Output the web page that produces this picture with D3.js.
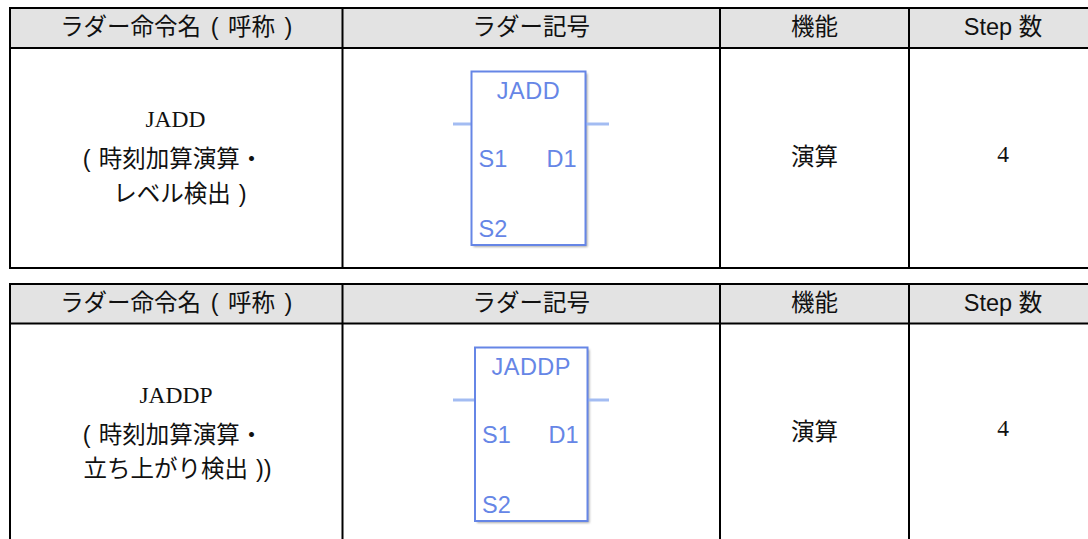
<!DOCTYPE html>
<html>
<head>
<meta charset="utf-8">
<script src="https://cdn.jsdelivr.net/npm/d3@7/dist/d3.min.js"></script>
<style>
    body { margin: 0; background: #fff; overflow: hidden; }
    svg { display: block; }
</style>
</head>
<body>
<svg id="svg"></svg>
<script>
//Data
const headers = ["ラダー命令名 ( 呼称 )", "ラダー記号", "機能", "Step 数"];
const commands = ["JADD", "JADDP"];
const descLine1 = ["( 時刻加算演算・", "( 時刻加算演算・"];
const descLine2 = ["レベル検出 )", "立ち上がり検出 ))"];
const functions = ["演算", "演算"];
const steps = [4, 4];
const inputPins = ["S1", "S2"];
const outputPins = ["D1"];

//Layout
const svgWidth = 1088;
const svgHeight = 539;
const sans = "'Liberation Sans','Noto Sans CJK JP',sans-serif";
const serif = "'Liberation Serif','Noto Sans CJK JP',serif";
const blue = "#6686e6";

// column edges, last one runs off the page like in the original
const colX = d3.scaleLinear().domain([0, 1, 2, 3, 4]).range([10, 342.5, 720, 909, 1097]);
const colCenter = i => (colX(i) + colX(i + 1)) / 2;

// one entry per table
const tableLayout = [
    { top: 8, head: 48, bottom: 268, closed: true, lines: [127, 167, 202], lineX: [175.5, 173, 180], funcY: 165, stepY: 162, box: [471.5, 585.5, 71.5, 245], rung: 124 },
    { top: 284, head: 323.5, bottom: 545, closed: false, lines: [403, 443, 477], lineX: [176, 173, 177.5], funcY: 440, stepY: 436, box: [475, 587.5, 347.5, 521], rung: 400 }
];

const svg = d3.select("#svg").attr("width", svgWidth).attr("height", svgHeight);

const defs = svg.append("defs");
defs.append("filter").attr("id", "soft")
    .append("feGaussianBlur").attr("stdDeviation", 1);

function addText(g, str, x, y, family, anchor) {
    return g.append("text")
        .attr("x", x)
        .attr("y", y)
        .attr("text-anchor", anchor || "middle")
        .attr("font-family", family)
        .attr("font-size", 23.5)
        .attr("word-spacing", 1.5)
        .attr("fill", "#111")
        .text(str);
}

function drawSymbol(g, name, t) {
    const [x0, x1, y0, y1] = t.box;
    const rungY = t.rung;

    // shadow
    g.append("rect")
        .attr("x", x0 + 2).attr("y", y0 + 2)
        .attr("width", x1 - x0).attr("height", y1 - y0)
        .attr("fill", "#aaa")
        .attr("filter", "url(#soft)");

    // rungs
    g.selectAll("line.rung")
        .data([[453, x0], [x1, 609]])
        .enter()
        .append("line")
        .attr("class", "rung")
        .attr("x1", d => d[0])
        .attr("x2", d => d[1])
        .attr("y1", rungY)
        .attr("y2", rungY)
        .attr("stroke", "#a3bcf2")
        .attr("stroke-width", 3);

    g.append("rect")
        .attr("x", x0).attr("y", y0)
        .attr("width", x1 - x0).attr("height", y1 - y0)
        .attr("fill", "#fff")
        .attr("stroke", blue)
        .attr("stroke-width", 2);

    addText(g, name, (x0 + x1) / 2, y0 + 27, sans).attr("fill", blue).attr("letter-spacing", 0.5);

    const pinY = d3.scaleOrdinal().domain(inputPins).range([y0 + 95, y0 + 165]);
    inputPins.forEach(p => {
        addText(g, p, x0 + 7, pinY(p), sans, "start").attr("fill", blue);
    });
    outputPins.forEach(p => {
        addText(g, p, x1 - 9, pinY(inputPins[0]), sans, "end").attr("fill", blue);
    });
}

commands.forEach((name, i) => {
    const t = tableLayout[i];
    const g = svg.append("g");
    const right = colX(4);

    // header band
    g.append("rect")
        .attr("x", colX(0)).attr("y", t.top)
        .attr("width", right - colX(0)).attr("height", t.head - t.top)
        .attr("fill", "#e3e3e3");

    headers.forEach((h, c) => {
        addText(g, h, colCenter(c), t.top + 27, sans)
            .attr("word-spacing", c === 0 ? 3 : 0);
    });

    // first column
    addText(g, name, t.lineX[0], t.lines[0], serif);
    addText(g, descLine1[i], t.lineX[1], t.lines[1], sans);
    addText(g, descLine2[i], t.lineX[2], t.lines[2], sans);

    drawSymbol(g, name, t);

    addText(g, functions[i], colCenter(2), t.funcY, sans);
    addText(g, steps[i], colCenter(3), t.stepY, serif);

    // rules
    const hLines = [t.top, t.head];
    if (t.closed) hLines.push(t.bottom);
    g.selectAll("line.h")
        .data(hLines)
        .enter()
        .append("line")
        .attr("class", "h")
        .attr("x1", colX(0) - 1)
        .attr("x2", right)
        .attr("y1", d => d)
        .attr("y2", d => d)
        .attr("stroke", "#000")
        .attr("stroke-width", 2);

    g.selectAll("line.v")
        .data(d3.range(0, 5))
        .enter()
        .append("line")
        .attr("class", "v")
        .attr("x1", d => colX(d))
        .attr("x2", d => colX(d))
        .attr("y1", t.top)
        .attr("y2", t.bottom)
        .attr("stroke", "#000")
        .attr("stroke-width", 2);
});
</script>
</body>
</html>
